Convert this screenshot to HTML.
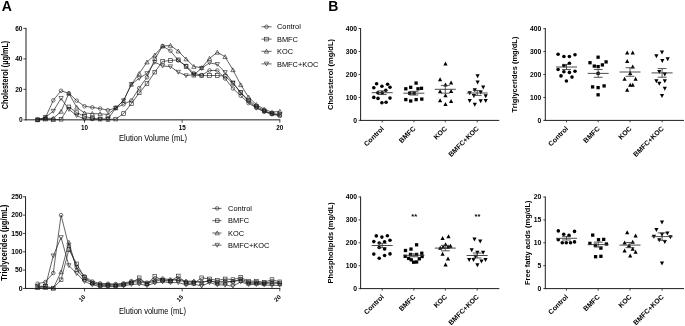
<!DOCTYPE html>
<html><head><meta charset="utf-8"><style>
html,body{margin:0;padding:0;background:#fff;width:685px;height:326px;overflow:hidden}
svg text{font-family:"Liberation Sans", sans-serif}
svg{filter:grayscale(1)}
</style></head><body>
<svg width="685" height="326" viewBox="0 0 685 326" style="display:block" font-family='"Liberation Sans", sans-serif'>
<rect width="685" height="326" fill="#fff"/>
<text x="1.7" y="11.1" font-size="14" text-anchor="start" font-weight="bold" fill="#000">A</text>
<text x="328.2" y="11.3" font-size="14" text-anchor="start" font-weight="bold" fill="#000">B</text>
<line x1="26" y1="27.9" x2="26" y2="120.35" stroke="#1e1e1e" stroke-width="1"/>
<line x1="25.5" y1="119.85" x2="280.3" y2="119.85" stroke="#1e1e1e" stroke-width="1"/>
<line x1="23.4" y1="119.85" x2="26" y2="119.85" stroke="#1e1e1e" stroke-width="0.8"/>
<text x="22.55" y="122.1" font-size="6.6" text-anchor="end" font-weight="bold" fill="#000">0</text>
<line x1="23.4" y1="89.37" x2="26" y2="89.37" stroke="#1e1e1e" stroke-width="0.8"/>
<text x="22.55" y="91.62" font-size="6.6" text-anchor="end" font-weight="bold" fill="#000">20</text>
<line x1="23.4" y1="58.88" x2="26" y2="58.88" stroke="#1e1e1e" stroke-width="0.8"/>
<text x="22.55" y="61.13" font-size="6.6" text-anchor="end" font-weight="bold" fill="#000">40</text>
<line x1="23.4" y1="28.4" x2="26" y2="28.4" stroke="#1e1e1e" stroke-width="0.8"/>
<text x="22.55" y="30.65" font-size="6.6" text-anchor="end" font-weight="bold" fill="#000">60</text>
<line x1="84.5" y1="119.85" x2="84.5" y2="122.75" stroke="#1e1e1e" stroke-width="0.8"/>
<text x="84.5" y="130.15" font-size="6.3" text-anchor="middle" font-weight="bold" fill="#000">10</text>
<line x1="182.15" y1="119.85" x2="182.15" y2="122.75" stroke="#1e1e1e" stroke-width="0.8"/>
<text x="182.15" y="130.15" font-size="6.3" text-anchor="middle" font-weight="bold" fill="#000">15</text>
<line x1="279.8" y1="119.85" x2="279.8" y2="122.75" stroke="#1e1e1e" stroke-width="0.8"/>
<text x="279.8" y="130.15" font-size="6.3" text-anchor="middle" font-weight="bold" fill="#000">20</text>
<text x="0" y="0" font-size="7.55" text-anchor="middle" transform="translate(153 140.7) scale(1 1.12)" fill="#000">Elution Volume (mL)</text>
<text x="0" y="0" font-size="7.3" text-anchor="middle" font-weight="bold" transform="translate(8.3 75) rotate(-90) scale(1 1.18)" fill="#000">Cholesterol (µg/mL)</text>
<polyline fill="none" stroke="#222" stroke-width="0.7" points="37.63,119.85 45.44,117.56 53.25,100.34 61.07,90.74 68.88,93.33 76.69,100.65 84.5,106.28 92.31,107.35 100.13,108.57 107.94,110.25 115.75,107.96 123.56,104.3 131.37,100.49 139.19,88.15 147,77.33 154.81,59.04 162.62,46.08 170.43,50.81 178.25,60.41 186.06,65.89 193.87,73.36 201.68,75.19 209.49,70.47 217.31,70.47 225.12,78.55 232.93,88.45 240.74,95.77 248.55,103.08 256.37,107.96 264.18,111.77 271.99,114.21 279.8,115.89"/>
<polyline fill="none" stroke="#222" stroke-width="0.7" points="37.63,119.85 45.44,119.09 53.25,119.85 61.07,119.24 68.88,106.89 76.69,112.69 84.5,116.34 92.31,118.33 100.13,119.09 107.94,119.39 115.75,119.09 123.56,113.6 131.37,103.69 139.19,92.87 147,83.57 154.81,72.14 162.62,61.32 170.43,60.56 178.25,59.8 186.06,66.5 193.87,75.19 201.68,75.65 209.49,75.5 217.31,75.5 225.12,76.11 232.93,83.27 240.74,92.72 248.55,100.04 256.37,106.13 264.18,110.7 271.99,113.75 279.8,114.97"/>
<polyline fill="none" stroke="#222" stroke-width="0.7" points="37.63,119.85 45.44,118.33 53.25,118.33 61.07,111.47 68.88,93.33 76.69,107.35 84.5,112.99 92.31,113.6 100.13,113.75 107.94,114.52 115.75,107.96 123.56,100.65 131.37,84.34 139.19,73.52 147,62.08 154.81,55.07 162.62,46.08 170.43,45.47 178.25,51.11 186.06,59.04 193.87,66.5 201.68,67.72 209.49,58.43 217.31,52.33 225.12,56.75 232.93,69.86 240.74,84.79 248.55,97.14 256.37,104.61 264.18,109.18 271.99,112.23 279.8,111.31"/>
<polyline fill="none" stroke="#222" stroke-width="0.7" points="37.63,119.85 45.44,117.26 53.25,111.16 61.07,98.36 68.88,109.33 76.69,115.58 84.5,119.09 92.31,119.09 100.13,119.09 107.94,119.09 115.75,107.96 123.56,100.65 131.37,84.34 139.19,78.24 147,73.52 154.81,62.24 162.62,65.89 170.43,66.66 178.25,72.14 186.06,75.65 193.87,74.58 201.68,68.33 209.49,62.85 217.31,64.37 225.12,72.45 232.93,82.81 240.74,92.41 248.55,101.56 256.37,107.66 264.18,111.47 271.99,113.75 279.8,114.21"/>
<circle cx="37.63" cy="119.85" r="1.8" fill="none" stroke="#1a1a1a" stroke-width="0.6"/>
<circle cx="45.44" cy="117.56" r="1.8" fill="none" stroke="#1a1a1a" stroke-width="0.6"/>
<circle cx="53.25" cy="100.34" r="1.8" fill="none" stroke="#1a1a1a" stroke-width="0.6"/>
<circle cx="61.07" cy="90.74" r="1.8" fill="none" stroke="#1a1a1a" stroke-width="0.6"/>
<circle cx="68.88" cy="93.33" r="1.8" fill="none" stroke="#1a1a1a" stroke-width="0.6"/>
<circle cx="76.69" cy="100.65" r="1.8" fill="none" stroke="#1a1a1a" stroke-width="0.6"/>
<circle cx="84.5" cy="106.28" r="1.8" fill="none" stroke="#1a1a1a" stroke-width="0.6"/>
<circle cx="92.31" cy="107.35" r="1.8" fill="none" stroke="#1a1a1a" stroke-width="0.6"/>
<circle cx="100.13" cy="108.57" r="1.8" fill="none" stroke="#1a1a1a" stroke-width="0.6"/>
<circle cx="107.94" cy="110.25" r="1.8" fill="none" stroke="#1a1a1a" stroke-width="0.6"/>
<circle cx="115.75" cy="107.96" r="1.8" fill="none" stroke="#1a1a1a" stroke-width="0.6"/>
<circle cx="123.56" cy="104.3" r="1.8" fill="none" stroke="#1a1a1a" stroke-width="0.6"/>
<circle cx="131.37" cy="100.49" r="1.8" fill="none" stroke="#1a1a1a" stroke-width="0.6"/>
<circle cx="139.19" cy="88.15" r="1.8" fill="none" stroke="#1a1a1a" stroke-width="0.6"/>
<circle cx="147" cy="77.33" r="1.8" fill="none" stroke="#1a1a1a" stroke-width="0.6"/>
<circle cx="154.81" cy="59.04" r="1.8" fill="none" stroke="#1a1a1a" stroke-width="0.6"/>
<circle cx="162.62" cy="46.08" r="1.8" fill="none" stroke="#1a1a1a" stroke-width="0.6"/>
<circle cx="170.43" cy="50.81" r="1.8" fill="none" stroke="#1a1a1a" stroke-width="0.6"/>
<circle cx="178.25" cy="60.41" r="1.8" fill="none" stroke="#1a1a1a" stroke-width="0.6"/>
<circle cx="186.06" cy="65.89" r="1.8" fill="none" stroke="#1a1a1a" stroke-width="0.6"/>
<circle cx="193.87" cy="73.36" r="1.8" fill="none" stroke="#1a1a1a" stroke-width="0.6"/>
<circle cx="201.68" cy="75.19" r="1.8" fill="none" stroke="#1a1a1a" stroke-width="0.6"/>
<circle cx="209.49" cy="70.47" r="1.8" fill="none" stroke="#1a1a1a" stroke-width="0.6"/>
<circle cx="217.31" cy="70.47" r="1.8" fill="none" stroke="#1a1a1a" stroke-width="0.6"/>
<circle cx="225.12" cy="78.55" r="1.8" fill="none" stroke="#1a1a1a" stroke-width="0.6"/>
<circle cx="232.93" cy="88.45" r="1.8" fill="none" stroke="#1a1a1a" stroke-width="0.6"/>
<circle cx="240.74" cy="95.77" r="1.8" fill="none" stroke="#1a1a1a" stroke-width="0.6"/>
<circle cx="248.55" cy="103.08" r="1.8" fill="none" stroke="#1a1a1a" stroke-width="0.6"/>
<circle cx="256.37" cy="107.96" r="1.8" fill="none" stroke="#1a1a1a" stroke-width="0.6"/>
<circle cx="264.18" cy="111.77" r="1.8" fill="none" stroke="#1a1a1a" stroke-width="0.6"/>
<circle cx="271.99" cy="114.21" r="1.8" fill="none" stroke="#1a1a1a" stroke-width="0.6"/>
<circle cx="279.8" cy="115.89" r="1.8" fill="none" stroke="#1a1a1a" stroke-width="0.6"/>
<rect x="35.78" y="118" width="3.7" height="3.7" fill="none" stroke="#1a1a1a" stroke-width="0.6"/>
<rect x="43.59" y="117.24" width="3.7" height="3.7" fill="none" stroke="#1a1a1a" stroke-width="0.6"/>
<rect x="51.4" y="118" width="3.7" height="3.7" fill="none" stroke="#1a1a1a" stroke-width="0.6"/>
<rect x="59.22" y="117.39" width="3.7" height="3.7" fill="none" stroke="#1a1a1a" stroke-width="0.6"/>
<rect x="67.03" y="105.04" width="3.7" height="3.7" fill="none" stroke="#1a1a1a" stroke-width="0.6"/>
<rect x="74.84" y="110.84" width="3.7" height="3.7" fill="none" stroke="#1a1a1a" stroke-width="0.6"/>
<rect x="82.65" y="114.49" width="3.7" height="3.7" fill="none" stroke="#1a1a1a" stroke-width="0.6"/>
<rect x="90.46" y="116.48" width="3.7" height="3.7" fill="none" stroke="#1a1a1a" stroke-width="0.6"/>
<rect x="98.28" y="117.24" width="3.7" height="3.7" fill="none" stroke="#1a1a1a" stroke-width="0.6"/>
<rect x="106.09" y="117.54" width="3.7" height="3.7" fill="none" stroke="#1a1a1a" stroke-width="0.6"/>
<rect x="113.9" y="117.24" width="3.7" height="3.7" fill="none" stroke="#1a1a1a" stroke-width="0.6"/>
<rect x="121.71" y="111.75" width="3.7" height="3.7" fill="none" stroke="#1a1a1a" stroke-width="0.6"/>
<rect x="129.52" y="101.84" width="3.7" height="3.7" fill="none" stroke="#1a1a1a" stroke-width="0.6"/>
<rect x="137.34" y="91.02" width="3.7" height="3.7" fill="none" stroke="#1a1a1a" stroke-width="0.6"/>
<rect x="145.15" y="81.72" width="3.7" height="3.7" fill="none" stroke="#1a1a1a" stroke-width="0.6"/>
<rect x="152.96" y="70.29" width="3.7" height="3.7" fill="none" stroke="#1a1a1a" stroke-width="0.6"/>
<rect x="160.77" y="59.47" width="3.7" height="3.7" fill="none" stroke="#1a1a1a" stroke-width="0.6"/>
<rect x="168.58" y="58.71" width="3.7" height="3.7" fill="none" stroke="#1a1a1a" stroke-width="0.6"/>
<rect x="176.4" y="57.95" width="3.7" height="3.7" fill="none" stroke="#1a1a1a" stroke-width="0.6"/>
<rect x="184.21" y="64.65" width="3.7" height="3.7" fill="none" stroke="#1a1a1a" stroke-width="0.6"/>
<rect x="192.02" y="73.34" width="3.7" height="3.7" fill="none" stroke="#1a1a1a" stroke-width="0.6"/>
<rect x="199.83" y="73.8" width="3.7" height="3.7" fill="none" stroke="#1a1a1a" stroke-width="0.6"/>
<rect x="207.64" y="73.65" width="3.7" height="3.7" fill="none" stroke="#1a1a1a" stroke-width="0.6"/>
<rect x="215.46" y="73.65" width="3.7" height="3.7" fill="none" stroke="#1a1a1a" stroke-width="0.6"/>
<rect x="223.27" y="74.26" width="3.7" height="3.7" fill="none" stroke="#1a1a1a" stroke-width="0.6"/>
<rect x="231.08" y="81.42" width="3.7" height="3.7" fill="none" stroke="#1a1a1a" stroke-width="0.6"/>
<rect x="238.89" y="90.87" width="3.7" height="3.7" fill="none" stroke="#1a1a1a" stroke-width="0.6"/>
<rect x="246.7" y="98.19" width="3.7" height="3.7" fill="none" stroke="#1a1a1a" stroke-width="0.6"/>
<rect x="254.52" y="104.28" width="3.7" height="3.7" fill="none" stroke="#1a1a1a" stroke-width="0.6"/>
<rect x="262.33" y="108.86" width="3.7" height="3.7" fill="none" stroke="#1a1a1a" stroke-width="0.6"/>
<rect x="270.14" y="111.9" width="3.7" height="3.7" fill="none" stroke="#1a1a1a" stroke-width="0.6"/>
<rect x="277.95" y="113.12" width="3.7" height="3.7" fill="none" stroke="#1a1a1a" stroke-width="0.6"/>
<path d="M37.63 117.81L39.78 121.68L35.48 121.68Z" fill="none" stroke="#1a1a1a" stroke-width="0.6"/>
<path d="M45.44 116.28L47.59 120.15L43.29 120.15Z" fill="none" stroke="#1a1a1a" stroke-width="0.6"/>
<path d="M53.25 116.28L55.4 120.15L51.1 120.15Z" fill="none" stroke="#1a1a1a" stroke-width="0.6"/>
<path d="M61.07 109.42L63.22 113.29L58.92 113.29Z" fill="none" stroke="#1a1a1a" stroke-width="0.6"/>
<path d="M68.88 91.29L71.03 95.16L66.73 95.16Z" fill="none" stroke="#1a1a1a" stroke-width="0.6"/>
<path d="M76.69 105.31L78.84 109.18L74.54 109.18Z" fill="none" stroke="#1a1a1a" stroke-width="0.6"/>
<path d="M84.5 110.95L86.65 114.82L82.35 114.82Z" fill="none" stroke="#1a1a1a" stroke-width="0.6"/>
<path d="M92.31 111.56L94.46 115.43L90.16 115.43Z" fill="none" stroke="#1a1a1a" stroke-width="0.6"/>
<path d="M100.13 111.71L102.28 115.58L97.98 115.58Z" fill="none" stroke="#1a1a1a" stroke-width="0.6"/>
<path d="M107.94 112.47L110.09 116.34L105.79 116.34Z" fill="none" stroke="#1a1a1a" stroke-width="0.6"/>
<path d="M115.75 105.92L117.9 109.79L113.6 109.79Z" fill="none" stroke="#1a1a1a" stroke-width="0.6"/>
<path d="M123.56 98.6L125.71 102.47L121.41 102.47Z" fill="none" stroke="#1a1a1a" stroke-width="0.6"/>
<path d="M131.37 82.29L133.52 86.16L129.22 86.16Z" fill="none" stroke="#1a1a1a" stroke-width="0.6"/>
<path d="M139.19 71.47L141.34 75.34L137.04 75.34Z" fill="none" stroke="#1a1a1a" stroke-width="0.6"/>
<path d="M147 60.04L149.15 63.91L144.85 63.91Z" fill="none" stroke="#1a1a1a" stroke-width="0.6"/>
<path d="M154.81 53.03L156.96 56.9L152.66 56.9Z" fill="none" stroke="#1a1a1a" stroke-width="0.6"/>
<path d="M162.62 44.04L164.77 47.91L160.47 47.91Z" fill="none" stroke="#1a1a1a" stroke-width="0.6"/>
<path d="M170.43 43.43L172.58 47.3L168.28 47.3Z" fill="none" stroke="#1a1a1a" stroke-width="0.6"/>
<path d="M178.25 49.07L180.4 52.94L176.1 52.94Z" fill="none" stroke="#1a1a1a" stroke-width="0.6"/>
<path d="M186.06 56.99L188.21 60.86L183.91 60.86Z" fill="none" stroke="#1a1a1a" stroke-width="0.6"/>
<path d="M193.87 64.46L196.02 68.33L191.72 68.33Z" fill="none" stroke="#1a1a1a" stroke-width="0.6"/>
<path d="M201.68 65.68L203.83 69.55L199.53 69.55Z" fill="none" stroke="#1a1a1a" stroke-width="0.6"/>
<path d="M209.49 56.38L211.64 60.25L207.34 60.25Z" fill="none" stroke="#1a1a1a" stroke-width="0.6"/>
<path d="M217.31 50.29L219.46 54.16L215.16 54.16Z" fill="none" stroke="#1a1a1a" stroke-width="0.6"/>
<path d="M225.12 54.71L227.27 58.58L222.97 58.58Z" fill="none" stroke="#1a1a1a" stroke-width="0.6"/>
<path d="M232.93 67.81L235.08 71.68L230.78 71.68Z" fill="none" stroke="#1a1a1a" stroke-width="0.6"/>
<path d="M240.74 82.75L242.89 86.62L238.59 86.62Z" fill="none" stroke="#1a1a1a" stroke-width="0.6"/>
<path d="M248.55 95.1L250.7 98.97L246.4 98.97Z" fill="none" stroke="#1a1a1a" stroke-width="0.6"/>
<path d="M256.37 102.57L258.52 106.44L254.22 106.44Z" fill="none" stroke="#1a1a1a" stroke-width="0.6"/>
<path d="M264.18 107.14L266.33 111.01L262.03 111.01Z" fill="none" stroke="#1a1a1a" stroke-width="0.6"/>
<path d="M271.99 110.19L274.14 114.06L269.84 114.06Z" fill="none" stroke="#1a1a1a" stroke-width="0.6"/>
<path d="M279.8 109.27L281.95 113.14L277.65 113.14Z" fill="none" stroke="#1a1a1a" stroke-width="0.6"/>
<path d="M37.63 121.89L39.78 118.02L35.48 118.02Z" fill="none" stroke="#1a1a1a" stroke-width="0.6"/>
<path d="M45.44 119.3L47.59 115.43L43.29 115.43Z" fill="none" stroke="#1a1a1a" stroke-width="0.6"/>
<path d="M53.25 113.2L55.4 109.33L51.1 109.33Z" fill="none" stroke="#1a1a1a" stroke-width="0.6"/>
<path d="M61.07 100.4L63.22 96.53L58.92 96.53Z" fill="none" stroke="#1a1a1a" stroke-width="0.6"/>
<path d="M68.88 111.38L71.03 107.51L66.73 107.51Z" fill="none" stroke="#1a1a1a" stroke-width="0.6"/>
<path d="M76.69 117.62L78.84 113.75L74.54 113.75Z" fill="none" stroke="#1a1a1a" stroke-width="0.6"/>
<path d="M84.5 121.13L86.65 117.26L82.35 117.26Z" fill="none" stroke="#1a1a1a" stroke-width="0.6"/>
<path d="M92.31 121.13L94.46 117.26L90.16 117.26Z" fill="none" stroke="#1a1a1a" stroke-width="0.6"/>
<path d="M100.13 121.13L102.28 117.26L97.98 117.26Z" fill="none" stroke="#1a1a1a" stroke-width="0.6"/>
<path d="M107.94 121.13L110.09 117.26L105.79 117.26Z" fill="none" stroke="#1a1a1a" stroke-width="0.6"/>
<path d="M115.75 110L117.9 106.13L113.6 106.13Z" fill="none" stroke="#1a1a1a" stroke-width="0.6"/>
<path d="M123.56 102.69L125.71 98.82L121.41 98.82Z" fill="none" stroke="#1a1a1a" stroke-width="0.6"/>
<path d="M131.37 86.38L133.52 82.51L129.22 82.51Z" fill="none" stroke="#1a1a1a" stroke-width="0.6"/>
<path d="M139.19 80.28L141.34 76.41L137.04 76.41Z" fill="none" stroke="#1a1a1a" stroke-width="0.6"/>
<path d="M147 75.56L149.15 71.69L144.85 71.69Z" fill="none" stroke="#1a1a1a" stroke-width="0.6"/>
<path d="M154.81 64.28L156.96 60.41L152.66 60.41Z" fill="none" stroke="#1a1a1a" stroke-width="0.6"/>
<path d="M162.62 67.94L164.77 64.07L160.47 64.07Z" fill="none" stroke="#1a1a1a" stroke-width="0.6"/>
<path d="M170.43 68.7L172.58 64.83L168.28 64.83Z" fill="none" stroke="#1a1a1a" stroke-width="0.6"/>
<path d="M178.25 74.19L180.4 70.32L176.1 70.32Z" fill="none" stroke="#1a1a1a" stroke-width="0.6"/>
<path d="M186.06 77.69L188.21 73.82L183.91 73.82Z" fill="none" stroke="#1a1a1a" stroke-width="0.6"/>
<path d="M193.87 76.62L196.02 72.75L191.72 72.75Z" fill="none" stroke="#1a1a1a" stroke-width="0.6"/>
<path d="M201.68 70.38L203.83 66.51L199.53 66.51Z" fill="none" stroke="#1a1a1a" stroke-width="0.6"/>
<path d="M209.49 64.89L211.64 61.02L207.34 61.02Z" fill="none" stroke="#1a1a1a" stroke-width="0.6"/>
<path d="M217.31 66.41L219.46 62.54L215.16 62.54Z" fill="none" stroke="#1a1a1a" stroke-width="0.6"/>
<path d="M225.12 74.49L227.27 70.62L222.97 70.62Z" fill="none" stroke="#1a1a1a" stroke-width="0.6"/>
<path d="M232.93 84.86L235.08 80.99L230.78 80.99Z" fill="none" stroke="#1a1a1a" stroke-width="0.6"/>
<path d="M240.74 94.46L242.89 90.59L238.59 90.59Z" fill="none" stroke="#1a1a1a" stroke-width="0.6"/>
<path d="M248.55 103.6L250.7 99.73L246.4 99.73Z" fill="none" stroke="#1a1a1a" stroke-width="0.6"/>
<path d="M256.37 109.7L258.52 105.83L254.22 105.83Z" fill="none" stroke="#1a1a1a" stroke-width="0.6"/>
<path d="M264.18 113.51L266.33 109.64L262.03 109.64Z" fill="none" stroke="#1a1a1a" stroke-width="0.6"/>
<path d="M271.99 115.8L274.14 111.93L269.84 111.93Z" fill="none" stroke="#1a1a1a" stroke-width="0.6"/>
<path d="M279.8 116.25L281.95 112.38L277.65 112.38Z" fill="none" stroke="#1a1a1a" stroke-width="0.6"/>
<line x1="261.5" y1="26.8" x2="271.6" y2="26.8" stroke="#222" stroke-width="0.7"/>
<circle cx="266.5" cy="26.8" r="1.8" fill="none" stroke="#1a1a1a" stroke-width="0.6"/>
<text x="277" y="29.4" font-size="7.4" text-anchor="start" fill="#000">Control</text>
<line x1="261.5" y1="39.1" x2="271.6" y2="39.1" stroke="#222" stroke-width="0.7"/>
<rect x="264.65" y="37.25" width="3.7" height="3.7" fill="none" stroke="#1a1a1a" stroke-width="0.6"/>
<text x="277" y="41.7" font-size="7.4" text-anchor="start" fill="#000">BMFC</text>
<line x1="261.5" y1="51.3" x2="271.6" y2="51.3" stroke="#222" stroke-width="0.7"/>
<path d="M266.5 49.26L268.65 53.13L264.35 53.13Z" fill="none" stroke="#1a1a1a" stroke-width="0.6"/>
<text x="277" y="53.9" font-size="7.4" text-anchor="start" fill="#000">KOC</text>
<line x1="261.5" y1="63.9" x2="271.6" y2="63.9" stroke="#222" stroke-width="0.7"/>
<path d="M266.5 65.94L268.65 62.07L264.35 62.07Z" fill="none" stroke="#1a1a1a" stroke-width="0.6"/>
<text x="277" y="66.5" font-size="7.4" text-anchor="start" fill="#000">BMFC+KOC</text>
<line x1="25.55" y1="196.3" x2="25.55" y2="288.95" stroke="#1e1e1e" stroke-width="1"/>
<line x1="25.05" y1="288.45" x2="280.3" y2="288.45" stroke="#1e1e1e" stroke-width="1"/>
<line x1="22.95" y1="288.45" x2="25.55" y2="288.45" stroke="#1e1e1e" stroke-width="0.8"/>
<text x="22.55" y="290.7" font-size="6.8" text-anchor="end" font-weight="bold" fill="#000">0</text>
<line x1="22.95" y1="270.12" x2="25.55" y2="270.12" stroke="#1e1e1e" stroke-width="0.8"/>
<text x="22.55" y="272.37" font-size="6.8" text-anchor="end" font-weight="bold" fill="#000">50</text>
<line x1="22.95" y1="251.79" x2="25.55" y2="251.79" stroke="#1e1e1e" stroke-width="0.8"/>
<text x="22.55" y="254.04" font-size="6.8" text-anchor="end" font-weight="bold" fill="#000">100</text>
<line x1="22.95" y1="233.46" x2="25.55" y2="233.46" stroke="#1e1e1e" stroke-width="0.8"/>
<text x="22.55" y="235.71" font-size="6.8" text-anchor="end" font-weight="bold" fill="#000">150</text>
<line x1="22.95" y1="215.13" x2="25.55" y2="215.13" stroke="#1e1e1e" stroke-width="0.8"/>
<text x="22.55" y="217.38" font-size="6.8" text-anchor="end" font-weight="bold" fill="#000">200</text>
<line x1="22.95" y1="196.8" x2="25.55" y2="196.8" stroke="#1e1e1e" stroke-width="0.8"/>
<text x="22.55" y="199.05" font-size="6.8" text-anchor="end" font-weight="bold" fill="#000">250</text>
<line x1="84.5" y1="288.45" x2="84.5" y2="291.35" stroke="#1e1e1e" stroke-width="0.8"/>
<text x="86" y="297.45" font-size="6" text-anchor="end" font-weight="bold" transform="rotate(-45 86 297.45)" fill="#000">10</text>
<line x1="182.15" y1="288.45" x2="182.15" y2="291.35" stroke="#1e1e1e" stroke-width="0.8"/>
<text x="183.65" y="297.45" font-size="6" text-anchor="end" font-weight="bold" transform="rotate(-45 183.65 297.45)" fill="#000">15</text>
<line x1="279.8" y1="288.45" x2="279.8" y2="291.35" stroke="#1e1e1e" stroke-width="0.8"/>
<text x="281.3" y="297.45" font-size="6" text-anchor="end" font-weight="bold" transform="rotate(-45 281.3 297.45)" fill="#000">20</text>
<text x="0" y="0" font-size="7.55" text-anchor="middle" transform="translate(152.5 314.1) scale(1 1.12)" fill="#000">Elution volume (mL)</text>
<text x="0" y="0" font-size="7.55" text-anchor="middle" font-weight="bold" transform="translate(7.3 242.7) rotate(-90) scale(1 1.18)" fill="#000">Triglycerides (µg/mL)</text>
<polyline fill="none" stroke="#222" stroke-width="0.7" points="37.63,283.68 45.44,282.03 53.25,273.05 61.07,215.13 68.88,246.29 76.69,267.19 84.5,276.35 92.31,281.48 100.13,283.32 107.94,283.68 115.75,284.05 123.56,283.32 131.37,281.12 139.19,280.38 147,282.58 154.81,279.65 162.62,278.55 170.43,279.65 178.25,280.38 186.06,281.85 193.87,281.85 201.68,281.85 209.49,281.12 217.31,281.85 225.12,281.12 232.93,281.85 240.74,278.92 248.55,282.22 256.37,282.22 264.18,282.95 271.99,281.85 279.8,282.95"/>
<polyline fill="none" stroke="#222" stroke-width="0.7" points="37.63,286.98 45.44,286.25 53.25,288.08 61.07,279.83 68.88,249.59 76.69,263.89 84.5,277.45 92.31,282.95 100.13,285.52 107.94,285.52 115.75,285.88 123.56,284.78 131.37,282.95 139.19,277.82 147,284.05 154.81,276.35 162.62,280.38 170.43,281.12 178.25,275.99 186.06,283.32 193.87,283.32 201.68,277.82 209.49,278.92 217.31,280.38 225.12,278.92 232.93,279.65 240.74,277.45 248.55,281.12 256.37,281.12 264.18,282.22 271.99,279.65 279.8,281.85"/>
<polyline fill="none" stroke="#222" stroke-width="0.7" points="37.63,287.72 45.44,287.72 53.25,288.27 61.07,271.95 68.88,242.26 76.69,269.39 84.5,279.28 92.31,282.95 100.13,284.42 107.94,284.42 115.75,284.78 123.56,284.05 131.37,281.85 139.19,281.85 147,283.32 154.81,281.12 162.62,279.65 170.43,280.38 178.25,278.92 186.06,281.12 193.87,281.12 201.68,282.58 209.49,280.38 217.31,283.32 225.12,282.58 232.93,281.12 240.74,280.38 248.55,283.32 256.37,283.32 264.18,283.68 271.99,282.95 279.8,283.68"/>
<polyline fill="none" stroke="#222" stroke-width="0.7" points="37.63,286.25 45.44,286.25 53.25,255.82 61.07,237.49 68.88,265.54 76.69,273.53 84.5,281.48 92.31,284.78 100.13,286.62 107.94,286.62 115.75,286.62 123.56,285.88 131.37,284.42 139.19,284.05 147,285.52 154.81,282.95 162.62,281.85 170.43,282.58 178.25,282.58 186.06,284.78 193.87,284.05 201.68,286.07 209.49,282.58 217.31,284.78 225.12,285.15 232.93,286.25 240.74,281.85 248.55,284.42 256.37,284.42 264.18,284.78 271.99,285.52 279.8,285.15"/>
<circle cx="37.63" cy="283.68" r="1.8" fill="none" stroke="#1a1a1a" stroke-width="0.6"/>
<circle cx="45.44" cy="282.03" r="1.8" fill="none" stroke="#1a1a1a" stroke-width="0.6"/>
<circle cx="53.25" cy="273.05" r="1.8" fill="none" stroke="#1a1a1a" stroke-width="0.6"/>
<circle cx="61.07" cy="215.13" r="1.8" fill="none" stroke="#1a1a1a" stroke-width="0.6"/>
<circle cx="68.88" cy="246.29" r="1.8" fill="none" stroke="#1a1a1a" stroke-width="0.6"/>
<circle cx="76.69" cy="267.19" r="1.8" fill="none" stroke="#1a1a1a" stroke-width="0.6"/>
<circle cx="84.5" cy="276.35" r="1.8" fill="none" stroke="#1a1a1a" stroke-width="0.6"/>
<circle cx="92.31" cy="281.48" r="1.8" fill="none" stroke="#1a1a1a" stroke-width="0.6"/>
<circle cx="100.13" cy="283.32" r="1.8" fill="none" stroke="#1a1a1a" stroke-width="0.6"/>
<circle cx="107.94" cy="283.68" r="1.8" fill="none" stroke="#1a1a1a" stroke-width="0.6"/>
<circle cx="115.75" cy="284.05" r="1.8" fill="none" stroke="#1a1a1a" stroke-width="0.6"/>
<circle cx="123.56" cy="283.32" r="1.8" fill="none" stroke="#1a1a1a" stroke-width="0.6"/>
<circle cx="131.37" cy="281.12" r="1.8" fill="none" stroke="#1a1a1a" stroke-width="0.6"/>
<circle cx="139.19" cy="280.38" r="1.8" fill="none" stroke="#1a1a1a" stroke-width="0.6"/>
<circle cx="147" cy="282.58" r="1.8" fill="none" stroke="#1a1a1a" stroke-width="0.6"/>
<circle cx="154.81" cy="279.65" r="1.8" fill="none" stroke="#1a1a1a" stroke-width="0.6"/>
<circle cx="162.62" cy="278.55" r="1.8" fill="none" stroke="#1a1a1a" stroke-width="0.6"/>
<circle cx="170.43" cy="279.65" r="1.8" fill="none" stroke="#1a1a1a" stroke-width="0.6"/>
<circle cx="178.25" cy="280.38" r="1.8" fill="none" stroke="#1a1a1a" stroke-width="0.6"/>
<circle cx="186.06" cy="281.85" r="1.8" fill="none" stroke="#1a1a1a" stroke-width="0.6"/>
<circle cx="193.87" cy="281.85" r="1.8" fill="none" stroke="#1a1a1a" stroke-width="0.6"/>
<circle cx="201.68" cy="281.85" r="1.8" fill="none" stroke="#1a1a1a" stroke-width="0.6"/>
<circle cx="209.49" cy="281.12" r="1.8" fill="none" stroke="#1a1a1a" stroke-width="0.6"/>
<circle cx="217.31" cy="281.85" r="1.8" fill="none" stroke="#1a1a1a" stroke-width="0.6"/>
<circle cx="225.12" cy="281.12" r="1.8" fill="none" stroke="#1a1a1a" stroke-width="0.6"/>
<circle cx="232.93" cy="281.85" r="1.8" fill="none" stroke="#1a1a1a" stroke-width="0.6"/>
<circle cx="240.74" cy="278.92" r="1.8" fill="none" stroke="#1a1a1a" stroke-width="0.6"/>
<circle cx="248.55" cy="282.22" r="1.8" fill="none" stroke="#1a1a1a" stroke-width="0.6"/>
<circle cx="256.37" cy="282.22" r="1.8" fill="none" stroke="#1a1a1a" stroke-width="0.6"/>
<circle cx="264.18" cy="282.95" r="1.8" fill="none" stroke="#1a1a1a" stroke-width="0.6"/>
<circle cx="271.99" cy="281.85" r="1.8" fill="none" stroke="#1a1a1a" stroke-width="0.6"/>
<circle cx="279.8" cy="282.95" r="1.8" fill="none" stroke="#1a1a1a" stroke-width="0.6"/>
<rect x="35.78" y="285.13" width="3.7" height="3.7" fill="none" stroke="#1a1a1a" stroke-width="0.6"/>
<rect x="43.59" y="284.4" width="3.7" height="3.7" fill="none" stroke="#1a1a1a" stroke-width="0.6"/>
<rect x="51.4" y="286.23" width="3.7" height="3.7" fill="none" stroke="#1a1a1a" stroke-width="0.6"/>
<rect x="59.22" y="277.98" width="3.7" height="3.7" fill="none" stroke="#1a1a1a" stroke-width="0.6"/>
<rect x="67.03" y="247.74" width="3.7" height="3.7" fill="none" stroke="#1a1a1a" stroke-width="0.6"/>
<rect x="74.84" y="262.04" width="3.7" height="3.7" fill="none" stroke="#1a1a1a" stroke-width="0.6"/>
<rect x="82.65" y="275.6" width="3.7" height="3.7" fill="none" stroke="#1a1a1a" stroke-width="0.6"/>
<rect x="90.46" y="281.1" width="3.7" height="3.7" fill="none" stroke="#1a1a1a" stroke-width="0.6"/>
<rect x="98.28" y="283.67" width="3.7" height="3.7" fill="none" stroke="#1a1a1a" stroke-width="0.6"/>
<rect x="106.09" y="283.67" width="3.7" height="3.7" fill="none" stroke="#1a1a1a" stroke-width="0.6"/>
<rect x="113.9" y="284.03" width="3.7" height="3.7" fill="none" stroke="#1a1a1a" stroke-width="0.6"/>
<rect x="121.71" y="282.93" width="3.7" height="3.7" fill="none" stroke="#1a1a1a" stroke-width="0.6"/>
<rect x="129.52" y="281.1" width="3.7" height="3.7" fill="none" stroke="#1a1a1a" stroke-width="0.6"/>
<rect x="137.34" y="275.97" width="3.7" height="3.7" fill="none" stroke="#1a1a1a" stroke-width="0.6"/>
<rect x="145.15" y="282.2" width="3.7" height="3.7" fill="none" stroke="#1a1a1a" stroke-width="0.6"/>
<rect x="152.96" y="274.5" width="3.7" height="3.7" fill="none" stroke="#1a1a1a" stroke-width="0.6"/>
<rect x="160.77" y="278.53" width="3.7" height="3.7" fill="none" stroke="#1a1a1a" stroke-width="0.6"/>
<rect x="168.58" y="279.27" width="3.7" height="3.7" fill="none" stroke="#1a1a1a" stroke-width="0.6"/>
<rect x="176.4" y="274.14" width="3.7" height="3.7" fill="none" stroke="#1a1a1a" stroke-width="0.6"/>
<rect x="184.21" y="281.47" width="3.7" height="3.7" fill="none" stroke="#1a1a1a" stroke-width="0.6"/>
<rect x="192.02" y="281.47" width="3.7" height="3.7" fill="none" stroke="#1a1a1a" stroke-width="0.6"/>
<rect x="199.83" y="275.97" width="3.7" height="3.7" fill="none" stroke="#1a1a1a" stroke-width="0.6"/>
<rect x="207.64" y="277.07" width="3.7" height="3.7" fill="none" stroke="#1a1a1a" stroke-width="0.6"/>
<rect x="215.46" y="278.53" width="3.7" height="3.7" fill="none" stroke="#1a1a1a" stroke-width="0.6"/>
<rect x="223.27" y="277.07" width="3.7" height="3.7" fill="none" stroke="#1a1a1a" stroke-width="0.6"/>
<rect x="231.08" y="277.8" width="3.7" height="3.7" fill="none" stroke="#1a1a1a" stroke-width="0.6"/>
<rect x="238.89" y="275.6" width="3.7" height="3.7" fill="none" stroke="#1a1a1a" stroke-width="0.6"/>
<rect x="246.7" y="279.27" width="3.7" height="3.7" fill="none" stroke="#1a1a1a" stroke-width="0.6"/>
<rect x="254.52" y="279.27" width="3.7" height="3.7" fill="none" stroke="#1a1a1a" stroke-width="0.6"/>
<rect x="262.33" y="280.37" width="3.7" height="3.7" fill="none" stroke="#1a1a1a" stroke-width="0.6"/>
<rect x="270.14" y="277.8" width="3.7" height="3.7" fill="none" stroke="#1a1a1a" stroke-width="0.6"/>
<rect x="277.95" y="280" width="3.7" height="3.7" fill="none" stroke="#1a1a1a" stroke-width="0.6"/>
<path d="M37.63 285.67L39.78 289.54L35.48 289.54Z" fill="none" stroke="#1a1a1a" stroke-width="0.6"/>
<path d="M45.44 285.67L47.59 289.54L43.29 289.54Z" fill="none" stroke="#1a1a1a" stroke-width="0.6"/>
<path d="M53.25 286.22L55.4 290.09L51.1 290.09Z" fill="none" stroke="#1a1a1a" stroke-width="0.6"/>
<path d="M61.07 269.91L63.22 273.78L58.92 273.78Z" fill="none" stroke="#1a1a1a" stroke-width="0.6"/>
<path d="M68.88 240.22L71.03 244.09L66.73 244.09Z" fill="none" stroke="#1a1a1a" stroke-width="0.6"/>
<path d="M76.69 267.34L78.84 271.21L74.54 271.21Z" fill="none" stroke="#1a1a1a" stroke-width="0.6"/>
<path d="M84.5 277.24L86.65 281.11L82.35 281.11Z" fill="none" stroke="#1a1a1a" stroke-width="0.6"/>
<path d="M92.31 280.91L94.46 284.78L90.16 284.78Z" fill="none" stroke="#1a1a1a" stroke-width="0.6"/>
<path d="M100.13 282.37L102.28 286.24L97.98 286.24Z" fill="none" stroke="#1a1a1a" stroke-width="0.6"/>
<path d="M107.94 282.37L110.09 286.24L105.79 286.24Z" fill="none" stroke="#1a1a1a" stroke-width="0.6"/>
<path d="M115.75 282.74L117.9 286.61L113.6 286.61Z" fill="none" stroke="#1a1a1a" stroke-width="0.6"/>
<path d="M123.56 282.01L125.71 285.88L121.41 285.88Z" fill="none" stroke="#1a1a1a" stroke-width="0.6"/>
<path d="M131.37 279.81L133.52 283.68L129.22 283.68Z" fill="none" stroke="#1a1a1a" stroke-width="0.6"/>
<path d="M139.19 279.81L141.34 283.68L137.04 283.68Z" fill="none" stroke="#1a1a1a" stroke-width="0.6"/>
<path d="M147 281.28L149.15 285.15L144.85 285.15Z" fill="none" stroke="#1a1a1a" stroke-width="0.6"/>
<path d="M154.81 279.08L156.96 282.95L152.66 282.95Z" fill="none" stroke="#1a1a1a" stroke-width="0.6"/>
<path d="M162.62 277.61L164.77 281.48L160.47 281.48Z" fill="none" stroke="#1a1a1a" stroke-width="0.6"/>
<path d="M170.43 278.34L172.58 282.21L168.28 282.21Z" fill="none" stroke="#1a1a1a" stroke-width="0.6"/>
<path d="M178.25 276.88L180.4 280.75L176.1 280.75Z" fill="none" stroke="#1a1a1a" stroke-width="0.6"/>
<path d="M186.06 279.08L188.21 282.95L183.91 282.95Z" fill="none" stroke="#1a1a1a" stroke-width="0.6"/>
<path d="M193.87 279.08L196.02 282.95L191.72 282.95Z" fill="none" stroke="#1a1a1a" stroke-width="0.6"/>
<path d="M201.68 280.54L203.83 284.41L199.53 284.41Z" fill="none" stroke="#1a1a1a" stroke-width="0.6"/>
<path d="M209.49 278.34L211.64 282.21L207.34 282.21Z" fill="none" stroke="#1a1a1a" stroke-width="0.6"/>
<path d="M217.31 281.28L219.46 285.15L215.16 285.15Z" fill="none" stroke="#1a1a1a" stroke-width="0.6"/>
<path d="M225.12 280.54L227.27 284.41L222.97 284.41Z" fill="none" stroke="#1a1a1a" stroke-width="0.6"/>
<path d="M232.93 279.08L235.08 282.95L230.78 282.95Z" fill="none" stroke="#1a1a1a" stroke-width="0.6"/>
<path d="M240.74 278.34L242.89 282.21L238.59 282.21Z" fill="none" stroke="#1a1a1a" stroke-width="0.6"/>
<path d="M248.55 281.28L250.7 285.15L246.4 285.15Z" fill="none" stroke="#1a1a1a" stroke-width="0.6"/>
<path d="M256.37 281.28L258.52 285.15L254.22 285.15Z" fill="none" stroke="#1a1a1a" stroke-width="0.6"/>
<path d="M264.18 281.64L266.33 285.51L262.03 285.51Z" fill="none" stroke="#1a1a1a" stroke-width="0.6"/>
<path d="M271.99 280.91L274.14 284.78L269.84 284.78Z" fill="none" stroke="#1a1a1a" stroke-width="0.6"/>
<path d="M279.8 281.64L281.95 285.51L277.65 285.51Z" fill="none" stroke="#1a1a1a" stroke-width="0.6"/>
<path d="M37.63 288.29L39.78 284.42L35.48 284.42Z" fill="none" stroke="#1a1a1a" stroke-width="0.6"/>
<path d="M45.44 288.29L47.59 284.42L43.29 284.42Z" fill="none" stroke="#1a1a1a" stroke-width="0.6"/>
<path d="M53.25 257.87L55.4 254L51.1 254Z" fill="none" stroke="#1a1a1a" stroke-width="0.6"/>
<path d="M61.07 239.54L63.22 235.67L58.92 235.67Z" fill="none" stroke="#1a1a1a" stroke-width="0.6"/>
<path d="M68.88 267.58L71.03 263.71L66.73 263.71Z" fill="none" stroke="#1a1a1a" stroke-width="0.6"/>
<path d="M76.69 275.57L78.84 271.7L74.54 271.7Z" fill="none" stroke="#1a1a1a" stroke-width="0.6"/>
<path d="M84.5 283.53L86.65 279.66L82.35 279.66Z" fill="none" stroke="#1a1a1a" stroke-width="0.6"/>
<path d="M92.31 286.83L94.46 282.96L90.16 282.96Z" fill="none" stroke="#1a1a1a" stroke-width="0.6"/>
<path d="M100.13 288.66L102.28 284.79L97.98 284.79Z" fill="none" stroke="#1a1a1a" stroke-width="0.6"/>
<path d="M107.94 288.66L110.09 284.79L105.79 284.79Z" fill="none" stroke="#1a1a1a" stroke-width="0.6"/>
<path d="M115.75 288.66L117.9 284.79L113.6 284.79Z" fill="none" stroke="#1a1a1a" stroke-width="0.6"/>
<path d="M123.56 287.93L125.71 284.06L121.41 284.06Z" fill="none" stroke="#1a1a1a" stroke-width="0.6"/>
<path d="M131.37 286.46L133.52 282.59L129.22 282.59Z" fill="none" stroke="#1a1a1a" stroke-width="0.6"/>
<path d="M139.19 286.09L141.34 282.22L137.04 282.22Z" fill="none" stroke="#1a1a1a" stroke-width="0.6"/>
<path d="M147 287.56L149.15 283.69L144.85 283.69Z" fill="none" stroke="#1a1a1a" stroke-width="0.6"/>
<path d="M154.81 284.99L156.96 281.12L152.66 281.12Z" fill="none" stroke="#1a1a1a" stroke-width="0.6"/>
<path d="M162.62 283.89L164.77 280.02L160.47 280.02Z" fill="none" stroke="#1a1a1a" stroke-width="0.6"/>
<path d="M170.43 284.63L172.58 280.76L168.28 280.76Z" fill="none" stroke="#1a1a1a" stroke-width="0.6"/>
<path d="M178.25 284.63L180.4 280.76L176.1 280.76Z" fill="none" stroke="#1a1a1a" stroke-width="0.6"/>
<path d="M186.06 286.83L188.21 282.96L183.91 282.96Z" fill="none" stroke="#1a1a1a" stroke-width="0.6"/>
<path d="M193.87 286.09L196.02 282.22L191.72 282.22Z" fill="none" stroke="#1a1a1a" stroke-width="0.6"/>
<path d="M201.68 288.11L203.83 284.24L199.53 284.24Z" fill="none" stroke="#1a1a1a" stroke-width="0.6"/>
<path d="M209.49 284.63L211.64 280.76L207.34 280.76Z" fill="none" stroke="#1a1a1a" stroke-width="0.6"/>
<path d="M217.31 286.83L219.46 282.96L215.16 282.96Z" fill="none" stroke="#1a1a1a" stroke-width="0.6"/>
<path d="M225.12 287.19L227.27 283.32L222.97 283.32Z" fill="none" stroke="#1a1a1a" stroke-width="0.6"/>
<path d="M232.93 288.29L235.08 284.42L230.78 284.42Z" fill="none" stroke="#1a1a1a" stroke-width="0.6"/>
<path d="M240.74 283.89L242.89 280.02L238.59 280.02Z" fill="none" stroke="#1a1a1a" stroke-width="0.6"/>
<path d="M248.55 286.46L250.7 282.59L246.4 282.59Z" fill="none" stroke="#1a1a1a" stroke-width="0.6"/>
<path d="M256.37 286.46L258.52 282.59L254.22 282.59Z" fill="none" stroke="#1a1a1a" stroke-width="0.6"/>
<path d="M264.18 286.83L266.33 282.96L262.03 282.96Z" fill="none" stroke="#1a1a1a" stroke-width="0.6"/>
<path d="M271.99 287.56L274.14 283.69L269.84 283.69Z" fill="none" stroke="#1a1a1a" stroke-width="0.6"/>
<path d="M279.8 287.19L281.95 283.32L277.65 283.32Z" fill="none" stroke="#1a1a1a" stroke-width="0.6"/>
<line x1="212.3" y1="208.4" x2="221.5" y2="208.4" stroke="#222" stroke-width="0.7"/>
<circle cx="217.2" cy="208.4" r="1.8" fill="none" stroke="#1a1a1a" stroke-width="0.6"/>
<text x="228.1" y="211" font-size="7.4" text-anchor="start" fill="#000">Control</text>
<line x1="212.3" y1="220.7" x2="221.5" y2="220.7" stroke="#222" stroke-width="0.7"/>
<rect x="215.35" y="218.85" width="3.7" height="3.7" fill="none" stroke="#1a1a1a" stroke-width="0.6"/>
<text x="228.1" y="223.3" font-size="7.4" text-anchor="start" fill="#000">BMFC</text>
<line x1="212.3" y1="233" x2="221.5" y2="233" stroke="#222" stroke-width="0.7"/>
<path d="M217.2 230.96L219.35 234.83L215.05 234.83Z" fill="none" stroke="#1a1a1a" stroke-width="0.6"/>
<text x="228.1" y="235.6" font-size="7.4" text-anchor="start" fill="#000">KOC</text>
<line x1="212.3" y1="245.2" x2="221.5" y2="245.2" stroke="#222" stroke-width="0.7"/>
<path d="M217.2 247.24L219.35 243.37L215.05 243.37Z" fill="none" stroke="#1a1a1a" stroke-width="0.6"/>
<text x="228.1" y="247.8" font-size="7.4" text-anchor="start" fill="#000">BMFC+KOC</text>
<line x1="360.6" y1="28" x2="360.6" y2="120.9" stroke="#1e1e1e" stroke-width="1"/>
<line x1="360.1" y1="120.4" x2="499.3" y2="120.4" stroke="#1e1e1e" stroke-width="1"/>
<line x1="358.6" y1="120.4" x2="360.6" y2="120.4" stroke="#1e1e1e" stroke-width="0.8"/>
<text x="357.1" y="122.7" font-size="6.75" text-anchor="end" font-weight="bold" fill="#000">0</text>
<line x1="358.6" y1="97.43" x2="360.6" y2="97.43" stroke="#1e1e1e" stroke-width="0.8"/>
<text x="357.1" y="99.73" font-size="6.75" text-anchor="end" font-weight="bold" fill="#000">100</text>
<line x1="358.6" y1="74.45" x2="360.6" y2="74.45" stroke="#1e1e1e" stroke-width="0.8"/>
<text x="357.1" y="76.75" font-size="6.75" text-anchor="end" font-weight="bold" fill="#000">200</text>
<line x1="358.6" y1="51.48" x2="360.6" y2="51.48" stroke="#1e1e1e" stroke-width="0.8"/>
<text x="357.1" y="53.78" font-size="6.75" text-anchor="end" font-weight="bold" fill="#000">300</text>
<line x1="358.6" y1="28.5" x2="360.6" y2="28.5" stroke="#1e1e1e" stroke-width="0.8"/>
<text x="357.1" y="30.8" font-size="6.75" text-anchor="end" font-weight="bold" fill="#000">400</text>
<line x1="382.2" y1="120.4" x2="382.2" y2="122.4" stroke="#1e1e1e" stroke-width="0.8"/>
<text x="384.4" y="129.1" font-size="7" text-anchor="end" font-weight="bold" transform="rotate(-45 384.4 129.1)" fill="#000">Control</text>
<line x1="413.9" y1="120.4" x2="413.9" y2="122.4" stroke="#1e1e1e" stroke-width="0.8"/>
<text x="416.1" y="129.1" font-size="7" text-anchor="end" font-weight="bold" transform="rotate(-45 416.1 129.1)" fill="#000">BMFC</text>
<line x1="445.3" y1="120.4" x2="445.3" y2="122.4" stroke="#1e1e1e" stroke-width="0.8"/>
<text x="447.5" y="129.1" font-size="7" text-anchor="end" font-weight="bold" transform="rotate(-45 447.5 129.1)" fill="#000">KOC</text>
<line x1="477.2" y1="120.4" x2="477.2" y2="122.4" stroke="#1e1e1e" stroke-width="0.8"/>
<text x="479.4" y="129.1" font-size="7" text-anchor="end" font-weight="bold" transform="rotate(-45 479.4 129.1)" fill="#000">BMFC+KOC</text>
<text x="332.6" y="74.45" font-size="7.5" text-anchor="middle" font-weight="bold" transform="rotate(-90 332.6 74.45)" fill="#000">Cholesterol (mg/dL)</text>
<circle cx="376.6" cy="83.7" r="1.8" fill="#000"/>
<circle cx="387.6" cy="84.3" r="1.8" fill="#000"/>
<circle cx="373.8" cy="87.8" r="1.8" fill="#000"/>
<circle cx="381.9" cy="86.3" r="1.8" fill="#000"/>
<circle cx="390" cy="87.3" r="1.8" fill="#000"/>
<circle cx="385.8" cy="90.2" r="1.8" fill="#000"/>
<circle cx="377.8" cy="92.7" r="1.8" fill="#000"/>
<circle cx="382.2" cy="92.9" r="1.8" fill="#000"/>
<circle cx="373.8" cy="97.4" r="1.8" fill="#000"/>
<circle cx="378" cy="98.4" r="1.8" fill="#000"/>
<circle cx="390" cy="98.1" r="1.8" fill="#000"/>
<circle cx="381.9" cy="102.7" r="1.8" fill="#000"/>
<circle cx="386.1" cy="102.3" r="1.8" fill="#000"/>
<line x1="371.7" y1="92.7" x2="392.7" y2="92.7" stroke="#383838" stroke-width="0.9"/>
<line x1="382.2" y1="90.86" x2="382.2" y2="94.54" stroke="#383838" stroke-width="0.85"/>
<line x1="377.8" y1="90.86" x2="386.6" y2="90.86" stroke="#383838" stroke-width="0.85"/>
<line x1="377.8" y1="94.54" x2="386.6" y2="94.54" stroke="#383838" stroke-width="0.85"/>
<rect x="414.45" y="81.45" width="3.3" height="3.3" fill="#000"/>
<rect x="404.15" y="87.15" width="3.3" height="3.3" fill="#000"/>
<rect x="409.05" y="85.65" width="3.3" height="3.3" fill="#000"/>
<rect x="416.35" y="87.15" width="3.3" height="3.3" fill="#000"/>
<rect x="419.85" y="86.65" width="3.3" height="3.3" fill="#000"/>
<rect x="408.05" y="91.55" width="3.3" height="3.3" fill="#000"/>
<rect x="412.45" y="91.55" width="3.3" height="3.3" fill="#000"/>
<rect x="404.15" y="97.95" width="3.3" height="3.3" fill="#000"/>
<rect x="409.05" y="99.35" width="3.3" height="3.3" fill="#000"/>
<rect x="414.45" y="97.95" width="3.3" height="3.3" fill="#000"/>
<rect x="420.15" y="97.45" width="3.3" height="3.3" fill="#000"/>
<line x1="403.4" y1="93.2" x2="424.4" y2="93.2" stroke="#383838" stroke-width="0.9"/>
<line x1="413.9" y1="91.35" x2="413.9" y2="95.05" stroke="#383838" stroke-width="0.85"/>
<line x1="409.5" y1="91.35" x2="418.3" y2="91.35" stroke="#383838" stroke-width="0.85"/>
<line x1="409.5" y1="95.05" x2="418.3" y2="95.05" stroke="#383838" stroke-width="0.85"/>
<path d="M445.5 61.41L447.6 65.39L443.4 65.39Z" fill="#000"/>
<path d="M440.1 77.2L442.2 81.2L438 81.2Z" fill="#000"/>
<path d="M451.1 80.41L453.2 84.4L449 84.4Z" fill="#000"/>
<path d="M445.5 82.6L447.6 86.59L443.4 86.59Z" fill="#000"/>
<path d="M440.1 89.3L442.2 93.3L438 93.3Z" fill="#000"/>
<path d="M451.1 89L453.2 93L449 93Z" fill="#000"/>
<path d="M445.5 93.2L447.6 97.2L443.4 97.2Z" fill="#000"/>
<path d="M440.1 98.3L442.2 102.3L438 102.3Z" fill="#000"/>
<path d="M451.1 98.91L453.2 102.9L449 102.9Z" fill="#000"/>
<path d="M445.5 102L447.6 106L443.4 106Z" fill="#000"/>
<line x1="434.8" y1="89.3" x2="455.8" y2="89.3" stroke="#383838" stroke-width="0.9"/>
<line x1="445.3" y1="85.42" x2="445.3" y2="93.18" stroke="#383838" stroke-width="0.85"/>
<line x1="440.9" y1="85.42" x2="449.7" y2="85.42" stroke="#383838" stroke-width="0.85"/>
<line x1="440.9" y1="93.18" x2="449.7" y2="93.18" stroke="#383838" stroke-width="0.85"/>
<path d="M477.6 78.3L479.7 74.3L475.5 74.3Z" fill="#000"/>
<path d="M477.6 84.4L479.7 80.41L475.5 80.41Z" fill="#000"/>
<path d="M483.2 89.5L485.3 85.5L481.1 85.5Z" fill="#000"/>
<path d="M474.8 92.3L476.9 88.3L472.7 88.3Z" fill="#000"/>
<path d="M469.7 95.2L471.8 91.2L467.6 91.2Z" fill="#000"/>
<path d="M480.7 94.5L482.8 90.5L478.6 90.5Z" fill="#000"/>
<path d="M473.9 97.9L476 93.91L471.8 93.91Z" fill="#000"/>
<path d="M485.7 98.2L487.8 94.2L483.6 94.2Z" fill="#000"/>
<path d="M469.7 103L471.8 99L467.6 99Z" fill="#000"/>
<path d="M480.7 103.3L482.8 99.3L478.6 99.3Z" fill="#000"/>
<path d="M485.7 103L487.8 99L483.6 99Z" fill="#000"/>
<path d="M474.8 106.7L476.9 102.7L472.7 102.7Z" fill="#000"/>
<line x1="466.7" y1="93" x2="487.7" y2="93" stroke="#383838" stroke-width="0.9"/>
<line x1="477.2" y1="90.57" x2="477.2" y2="95.43" stroke="#383838" stroke-width="0.85"/>
<line x1="472.8" y1="90.57" x2="481.6" y2="90.57" stroke="#383838" stroke-width="0.85"/>
<line x1="472.8" y1="95.43" x2="481.6" y2="95.43" stroke="#383838" stroke-width="0.85"/>
<line x1="545.3" y1="28.1" x2="545.3" y2="120.9" stroke="#1e1e1e" stroke-width="1"/>
<line x1="544.8" y1="120.4" x2="684" y2="120.4" stroke="#1e1e1e" stroke-width="1"/>
<line x1="543.3" y1="120.4" x2="545.3" y2="120.4" stroke="#1e1e1e" stroke-width="0.8"/>
<text x="541.2" y="122.7" font-size="6.75" text-anchor="end" font-weight="bold" fill="#000">0</text>
<line x1="543.3" y1="97.45" x2="545.3" y2="97.45" stroke="#1e1e1e" stroke-width="0.8"/>
<text x="541.2" y="99.75" font-size="6.75" text-anchor="end" font-weight="bold" fill="#000">100</text>
<line x1="543.3" y1="74.5" x2="545.3" y2="74.5" stroke="#1e1e1e" stroke-width="0.8"/>
<text x="541.2" y="76.8" font-size="6.75" text-anchor="end" font-weight="bold" fill="#000">200</text>
<line x1="543.3" y1="51.55" x2="545.3" y2="51.55" stroke="#1e1e1e" stroke-width="0.8"/>
<text x="541.2" y="53.85" font-size="6.75" text-anchor="end" font-weight="bold" fill="#000">300</text>
<line x1="543.3" y1="28.6" x2="545.3" y2="28.6" stroke="#1e1e1e" stroke-width="0.8"/>
<text x="541.2" y="30.9" font-size="6.75" text-anchor="end" font-weight="bold" fill="#000">400</text>
<line x1="566.5" y1="120.4" x2="566.5" y2="122.4" stroke="#1e1e1e" stroke-width="0.8"/>
<text x="568.7" y="129.1" font-size="7" text-anchor="end" font-weight="bold" transform="rotate(-45 568.7 129.1)" fill="#000">Control</text>
<line x1="598.2" y1="120.4" x2="598.2" y2="122.4" stroke="#1e1e1e" stroke-width="0.8"/>
<text x="600.4" y="129.1" font-size="7" text-anchor="end" font-weight="bold" transform="rotate(-45 600.4 129.1)" fill="#000">BMFC</text>
<line x1="630" y1="120.4" x2="630" y2="122.4" stroke="#1e1e1e" stroke-width="0.8"/>
<text x="632.2" y="129.1" font-size="7" text-anchor="end" font-weight="bold" transform="rotate(-45 632.2 129.1)" fill="#000">KOC</text>
<line x1="662.1" y1="120.4" x2="662.1" y2="122.4" stroke="#1e1e1e" stroke-width="0.8"/>
<text x="664.3" y="129.1" font-size="7" text-anchor="end" font-weight="bold" transform="rotate(-45 664.3 129.1)" fill="#000">BMFC+KOC</text>
<text x="517.4" y="74.5" font-size="7.5" text-anchor="middle" font-weight="bold" transform="rotate(-90 517.4 74.5)" fill="#000">Triglycerides (mg/dL)</text>
<circle cx="558.1" cy="54.3" r="1.8" fill="#000"/>
<circle cx="563.9" cy="56.5" r="1.8" fill="#000"/>
<circle cx="569.4" cy="56.5" r="1.8" fill="#000"/>
<circle cx="575" cy="54.8" r="1.8" fill="#000"/>
<circle cx="569.4" cy="63.2" r="1.8" fill="#000"/>
<circle cx="563.9" cy="65.6" r="1.8" fill="#000"/>
<circle cx="558.1" cy="69.5" r="1.8" fill="#000"/>
<circle cx="563.9" cy="71.7" r="1.8" fill="#000"/>
<circle cx="569.4" cy="72.4" r="1.8" fill="#000"/>
<circle cx="575" cy="71.2" r="1.8" fill="#000"/>
<circle cx="561" cy="75.9" r="1.8" fill="#000"/>
<circle cx="572" cy="77.1" r="1.8" fill="#000"/>
<circle cx="566.4" cy="81" r="1.8" fill="#000"/>
<line x1="556" y1="67" x2="577" y2="67" stroke="#383838" stroke-width="0.9"/>
<line x1="566.5" y1="64.47" x2="566.5" y2="69.53" stroke="#383838" stroke-width="0.85"/>
<line x1="562.1" y1="64.47" x2="570.9" y2="64.47" stroke="#383838" stroke-width="0.85"/>
<line x1="562.1" y1="69.53" x2="570.9" y2="69.53" stroke="#383838" stroke-width="0.85"/>
<rect x="596.45" y="55.55" width="3.3" height="3.3" fill="#000"/>
<rect x="588.35" y="61.05" width="3.3" height="3.3" fill="#000"/>
<rect x="604.45" y="60.25" width="3.3" height="3.3" fill="#000"/>
<rect x="592.65" y="64.45" width="3.3" height="3.3" fill="#000"/>
<rect x="596.45" y="64.95" width="3.3" height="3.3" fill="#000"/>
<rect x="600.75" y="63.25" width="3.3" height="3.3" fill="#000"/>
<rect x="596.45" y="71.75" width="3.3" height="3.3" fill="#000"/>
<rect x="590.95" y="85.25" width="3.3" height="3.3" fill="#000"/>
<rect x="596.45" y="85.95" width="3.3" height="3.3" fill="#000"/>
<rect x="602.45" y="84.25" width="3.3" height="3.3" fill="#000"/>
<rect x="596.45" y="93.15" width="3.3" height="3.3" fill="#000"/>
<line x1="587.7" y1="73.4" x2="608.7" y2="73.4" stroke="#383838" stroke-width="0.9"/>
<line x1="598.2" y1="69.49" x2="598.2" y2="77.31" stroke="#383838" stroke-width="0.85"/>
<line x1="593.8" y1="69.49" x2="602.6" y2="69.49" stroke="#383838" stroke-width="0.85"/>
<line x1="593.8" y1="77.31" x2="602.6" y2="77.31" stroke="#383838" stroke-width="0.85"/>
<path d="M627.2 50.61L629.3 54.59L625.1 54.59Z" fill="#000"/>
<path d="M632.7 50.61L634.8 54.59L630.6 54.59Z" fill="#000"/>
<path d="M627.2 59.01L629.3 62.99L625.1 62.99Z" fill="#000"/>
<path d="M632.7 64.6L634.8 68.59L630.6 68.59Z" fill="#000"/>
<path d="M630.2 70.91L632.3 74.9L628.1 74.9Z" fill="#000"/>
<path d="M624.6 76.8L626.7 80.8L622.5 80.8Z" fill="#000"/>
<path d="M635.6 76.8L637.7 80.8L633.5 80.8Z" fill="#000"/>
<path d="M630.2 82.7L632.3 86.7L628.1 86.7Z" fill="#000"/>
<path d="M632.7 82.7L634.8 86.7L630.6 86.7Z" fill="#000"/>
<path d="M627.2 87.8L629.3 91.8L625.1 91.8Z" fill="#000"/>
<line x1="619.5" y1="72" x2="640.5" y2="72" stroke="#383838" stroke-width="0.9"/>
<line x1="630" y1="67.74" x2="630" y2="76.26" stroke="#383838" stroke-width="0.85"/>
<line x1="625.6" y1="67.74" x2="634.4" y2="67.74" stroke="#383838" stroke-width="0.85"/>
<line x1="625.6" y1="76.26" x2="634.4" y2="76.26" stroke="#383838" stroke-width="0.85"/>
<path d="M662 54.49L664.1 50.51L659.9 50.51Z" fill="#000"/>
<path d="M656.4 58.2L658.5 54.21L654.3 54.21Z" fill="#000"/>
<path d="M662.3 62.9L664.4 58.91L660.2 58.91Z" fill="#000"/>
<path d="M667.7 61.2L669.8 57.21L665.6 57.21Z" fill="#000"/>
<path d="M659.3 73.9L661.4 69.91L657.2 69.91Z" fill="#000"/>
<path d="M664.8 76.4L666.9 72.41L662.7 72.41Z" fill="#000"/>
<path d="M656.4 83.2L658.5 79.2L654.3 79.2Z" fill="#000"/>
<path d="M659.3 85.7L661.4 81.7L657.2 81.7Z" fill="#000"/>
<path d="M664.8 83.2L666.9 79.2L662.7 79.2Z" fill="#000"/>
<path d="M664.8 90.8L666.9 86.8L662.7 86.8Z" fill="#000"/>
<path d="M662 98L664.1 94L659.9 94Z" fill="#000"/>
<line x1="651.6" y1="72.9" x2="672.6" y2="72.9" stroke="#383838" stroke-width="0.9"/>
<line x1="662.1" y1="68.56" x2="662.1" y2="77.24" stroke="#383838" stroke-width="0.85"/>
<line x1="657.7" y1="68.56" x2="666.5" y2="68.56" stroke="#383838" stroke-width="0.85"/>
<line x1="657.7" y1="77.24" x2="666.5" y2="77.24" stroke="#383838" stroke-width="0.85"/>
<line x1="360.6" y1="196.5" x2="360.6" y2="289.1" stroke="#1e1e1e" stroke-width="1"/>
<line x1="360.1" y1="288.6" x2="499.3" y2="288.6" stroke="#1e1e1e" stroke-width="1"/>
<line x1="358.6" y1="288.6" x2="360.6" y2="288.6" stroke="#1e1e1e" stroke-width="0.8"/>
<text x="357.1" y="290.9" font-size="6.75" text-anchor="end" font-weight="bold" fill="#000">0</text>
<line x1="358.6" y1="265.7" x2="360.6" y2="265.7" stroke="#1e1e1e" stroke-width="0.8"/>
<text x="357.1" y="268" font-size="6.75" text-anchor="end" font-weight="bold" fill="#000">100</text>
<line x1="358.6" y1="242.8" x2="360.6" y2="242.8" stroke="#1e1e1e" stroke-width="0.8"/>
<text x="357.1" y="245.1" font-size="6.75" text-anchor="end" font-weight="bold" fill="#000">200</text>
<line x1="358.6" y1="219.9" x2="360.6" y2="219.9" stroke="#1e1e1e" stroke-width="0.8"/>
<text x="357.1" y="222.2" font-size="6.75" text-anchor="end" font-weight="bold" fill="#000">300</text>
<line x1="358.6" y1="197" x2="360.6" y2="197" stroke="#1e1e1e" stroke-width="0.8"/>
<text x="357.1" y="199.3" font-size="6.75" text-anchor="end" font-weight="bold" fill="#000">400</text>
<line x1="382.2" y1="288.6" x2="382.2" y2="290.6" stroke="#1e1e1e" stroke-width="0.8"/>
<text x="384.4" y="297.3" font-size="7" text-anchor="end" font-weight="bold" transform="rotate(-45 384.4 297.3)" fill="#000">Control</text>
<line x1="413.9" y1="288.6" x2="413.9" y2="290.6" stroke="#1e1e1e" stroke-width="0.8"/>
<text x="416.1" y="297.3" font-size="7" text-anchor="end" font-weight="bold" transform="rotate(-45 416.1 297.3)" fill="#000">BMFC</text>
<line x1="445.3" y1="288.6" x2="445.3" y2="290.6" stroke="#1e1e1e" stroke-width="0.8"/>
<text x="447.5" y="297.3" font-size="7" text-anchor="end" font-weight="bold" transform="rotate(-45 447.5 297.3)" fill="#000">KOC</text>
<line x1="477.2" y1="288.6" x2="477.2" y2="290.6" stroke="#1e1e1e" stroke-width="0.8"/>
<text x="479.4" y="297.3" font-size="7" text-anchor="end" font-weight="bold" transform="rotate(-45 479.4 297.3)" fill="#000">BMFC+KOC</text>
<text x="333" y="242.8" font-size="7.5" text-anchor="middle" font-weight="bold" transform="rotate(-90 333 242.8)" fill="#000">Phospholipids (mg/dL)</text>
<circle cx="376.3" cy="235.9" r="1.8" fill="#000"/>
<circle cx="381.9" cy="237.1" r="1.8" fill="#000"/>
<circle cx="387.4" cy="235.7" r="1.8" fill="#000"/>
<circle cx="373.8" cy="241.6" r="1.8" fill="#000"/>
<circle cx="379.2" cy="243" r="1.8" fill="#000"/>
<circle cx="384.6" cy="241.8" r="1.8" fill="#000"/>
<circle cx="390" cy="240.3" r="1.8" fill="#000"/>
<circle cx="379.2" cy="247.5" r="1.8" fill="#000"/>
<circle cx="384.6" cy="248.9" r="1.8" fill="#000"/>
<circle cx="373.8" cy="254.1" r="1.8" fill="#000"/>
<circle cx="379.2" cy="258.3" r="1.8" fill="#000"/>
<circle cx="384.6" cy="255.5" r="1.8" fill="#000"/>
<circle cx="390" cy="253.9" r="1.8" fill="#000"/>
<line x1="371.7" y1="245.5" x2="392.7" y2="245.5" stroke="#383838" stroke-width="0.9"/>
<line x1="382.2" y1="243.32" x2="382.2" y2="247.68" stroke="#383838" stroke-width="0.85"/>
<line x1="377.8" y1="243.32" x2="386.6" y2="243.32" stroke="#383838" stroke-width="0.85"/>
<line x1="377.8" y1="247.68" x2="386.6" y2="247.68" stroke="#383838" stroke-width="0.85"/>
<rect x="414.95" y="243.15" width="3.3" height="3.3" fill="#000"/>
<rect x="409.35" y="247.45" width="3.3" height="3.3" fill="#000"/>
<rect x="403.85" y="248.85" width="3.3" height="3.3" fill="#000"/>
<rect x="403.55" y="254.65" width="3.3" height="3.3" fill="#000"/>
<rect x="406.95" y="256.75" width="3.3" height="3.3" fill="#000"/>
<rect x="408.85" y="252.75" width="3.3" height="3.3" fill="#000"/>
<rect x="409.55" y="258.15" width="3.3" height="3.3" fill="#000"/>
<rect x="414.95" y="252.75" width="3.3" height="3.3" fill="#000"/>
<rect x="417.65" y="257.15" width="3.3" height="3.3" fill="#000"/>
<rect x="420.15" y="251.55" width="3.3" height="3.3" fill="#000"/>
<rect x="420.45" y="254.85" width="3.3" height="3.3" fill="#000"/>
<rect x="411.95" y="260.55" width="3.3" height="3.3" fill="#000"/>
<rect x="414.95" y="260.35" width="3.3" height="3.3" fill="#000"/>
<line x1="403.4" y1="255.3" x2="424.4" y2="255.3" stroke="#383838" stroke-width="0.9"/>
<line x1="413.9" y1="253.88" x2="413.9" y2="256.72" stroke="#383838" stroke-width="0.85"/>
<line x1="409.5" y1="253.88" x2="418.3" y2="253.88" stroke="#383838" stroke-width="0.85"/>
<line x1="409.5" y1="256.72" x2="418.3" y2="256.72" stroke="#383838" stroke-width="0.85"/>
<path d="M442.6 236L444.7 240L440.5 240Z" fill="#000"/>
<path d="M448.5 234.2L450.6 238.19L446.4 238.19Z" fill="#000"/>
<path d="M440.2 245.81L442.3 249.8L438.1 249.8Z" fill="#000"/>
<path d="M443.1 244.81L445.2 248.8L441 248.8Z" fill="#000"/>
<path d="M445.6 242.31L447.7 246.3L443.5 246.3Z" fill="#000"/>
<path d="M448 244.81L450.1 248.8L445.9 248.8Z" fill="#000"/>
<path d="M450.5 243.81L452.6 247.8L448.4 247.8Z" fill="#000"/>
<path d="M442.6 251.7L444.7 255.69L440.5 255.69Z" fill="#000"/>
<path d="M448 256.61L450.1 260.6L445.9 260.6Z" fill="#000"/>
<path d="M445.6 262.5L447.7 266.5L443.5 266.5Z" fill="#000"/>
<line x1="434.8" y1="248.1" x2="455.8" y2="248.1" stroke="#383838" stroke-width="0.9"/>
<line x1="445.3" y1="245.36" x2="445.3" y2="250.84" stroke="#383838" stroke-width="0.85"/>
<line x1="440.9" y1="245.36" x2="449.7" y2="245.36" stroke="#383838" stroke-width="0.85"/>
<line x1="440.9" y1="250.84" x2="449.7" y2="250.84" stroke="#383838" stroke-width="0.85"/>
<path d="M474.5 241.5L476.6 237.5L472.4 237.5Z" fill="#000"/>
<path d="M480.2 243.5L482.3 239.5L478.1 239.5Z" fill="#000"/>
<path d="M471.7 252.29L473.8 248.3L469.6 248.3Z" fill="#000"/>
<path d="M477.4 254.79L479.5 250.8L475.3 250.8Z" fill="#000"/>
<path d="M483.1 254.79L485.2 250.8L481 250.8Z" fill="#000"/>
<path d="M469.2 261.89L471.3 257.9L467.1 257.9Z" fill="#000"/>
<path d="M473.5 261.89L475.6 257.9L471.4 257.9Z" fill="#000"/>
<path d="M481.5 263.39L483.6 259.4L479.4 259.4Z" fill="#000"/>
<path d="M485.5 261.89L487.6 257.9L483.4 257.9Z" fill="#000"/>
<path d="M477.4 267.3L479.5 263.31L475.3 263.31Z" fill="#000"/>
<path d="M475.5 258.69L477.6 254.7L473.4 254.7Z" fill="#000"/>
<line x1="466.7" y1="255.5" x2="487.7" y2="255.5" stroke="#383838" stroke-width="0.9"/>
<line x1="477.2" y1="253.02" x2="477.2" y2="257.98" stroke="#383838" stroke-width="0.85"/>
<line x1="472.8" y1="253.02" x2="481.6" y2="253.02" stroke="#383838" stroke-width="0.85"/>
<line x1="472.8" y1="257.98" x2="481.6" y2="257.98" stroke="#383838" stroke-width="0.85"/>
<text x="414.2" y="218.5" font-size="7.6" text-anchor="middle" font-weight="bold" fill="#000">**</text>
<text x="477.5" y="218.5" font-size="7.6" text-anchor="middle" font-weight="bold" fill="#000">**</text>
<line x1="545.3" y1="196.5" x2="545.3" y2="289.1" stroke="#1e1e1e" stroke-width="1"/>
<line x1="544.8" y1="288.6" x2="684" y2="288.6" stroke="#1e1e1e" stroke-width="1"/>
<line x1="543.3" y1="288.6" x2="545.3" y2="288.6" stroke="#1e1e1e" stroke-width="0.8"/>
<text x="541.2" y="290.9" font-size="6.75" text-anchor="end" font-weight="bold" fill="#000">0</text>
<line x1="543.3" y1="265.7" x2="545.3" y2="265.7" stroke="#1e1e1e" stroke-width="0.8"/>
<text x="541.2" y="268" font-size="6.75" text-anchor="end" font-weight="bold" fill="#000">5</text>
<line x1="543.3" y1="242.8" x2="545.3" y2="242.8" stroke="#1e1e1e" stroke-width="0.8"/>
<text x="541.2" y="245.1" font-size="6.75" text-anchor="end" font-weight="bold" fill="#000">10</text>
<line x1="543.3" y1="219.9" x2="545.3" y2="219.9" stroke="#1e1e1e" stroke-width="0.8"/>
<text x="541.2" y="222.2" font-size="6.75" text-anchor="end" font-weight="bold" fill="#000">15</text>
<line x1="543.3" y1="197" x2="545.3" y2="197" stroke="#1e1e1e" stroke-width="0.8"/>
<text x="541.2" y="199.3" font-size="6.75" text-anchor="end" font-weight="bold" fill="#000">20</text>
<line x1="566.5" y1="288.6" x2="566.5" y2="290.6" stroke="#1e1e1e" stroke-width="0.8"/>
<text x="568.7" y="297.3" font-size="7" text-anchor="end" font-weight="bold" transform="rotate(-45 568.7 297.3)" fill="#000">Control</text>
<line x1="598.2" y1="288.6" x2="598.2" y2="290.6" stroke="#1e1e1e" stroke-width="0.8"/>
<text x="600.4" y="297.3" font-size="7" text-anchor="end" font-weight="bold" transform="rotate(-45 600.4 297.3)" fill="#000">BMFC</text>
<line x1="630" y1="288.6" x2="630" y2="290.6" stroke="#1e1e1e" stroke-width="0.8"/>
<text x="632.2" y="297.3" font-size="7" text-anchor="end" font-weight="bold" transform="rotate(-45 632.2 297.3)" fill="#000">KOC</text>
<line x1="662.1" y1="288.6" x2="662.1" y2="290.6" stroke="#1e1e1e" stroke-width="0.8"/>
<text x="664.3" y="297.3" font-size="7" text-anchor="end" font-weight="bold" transform="rotate(-45 664.3 297.3)" fill="#000">BMFC+KOC</text>
<text x="530.3" y="242.8" font-size="7.5" text-anchor="middle" font-weight="bold" transform="rotate(-90 530.3 242.8)" fill="#000">Free fatty acids (mg/dL)</text>
<circle cx="558.3" cy="230.9" r="1.8" fill="#000"/>
<circle cx="574.5" cy="231.4" r="1.8" fill="#000"/>
<circle cx="563.7" cy="234.2" r="1.8" fill="#000"/>
<circle cx="569" cy="235.4" r="1.8" fill="#000"/>
<circle cx="558.3" cy="239.7" r="1.8" fill="#000"/>
<circle cx="562.3" cy="242.8" r="1.8" fill="#000"/>
<circle cx="566.3" cy="242.8" r="1.8" fill="#000"/>
<circle cx="570.5" cy="242.8" r="1.8" fill="#000"/>
<circle cx="574.5" cy="241.9" r="1.8" fill="#000"/>
<line x1="556" y1="238.3" x2="577" y2="238.3" stroke="#383838" stroke-width="0.9"/>
<line x1="566.5" y1="236.62" x2="566.5" y2="239.98" stroke="#383838" stroke-width="0.85"/>
<line x1="562.1" y1="236.62" x2="570.9" y2="236.62" stroke="#383838" stroke-width="0.85"/>
<line x1="562.1" y1="239.98" x2="570.9" y2="239.98" stroke="#383838" stroke-width="0.85"/>
<rect x="591.05" y="233.45" width="3.3" height="3.3" fill="#000"/>
<rect x="596.85" y="238.05" width="3.3" height="3.3" fill="#000"/>
<rect x="602.05" y="237.75" width="3.3" height="3.3" fill="#000"/>
<rect x="588.25" y="241.75" width="3.3" height="3.3" fill="#000"/>
<rect x="593.75" y="243.55" width="3.3" height="3.3" fill="#000"/>
<rect x="599.25" y="246.45" width="3.3" height="3.3" fill="#000"/>
<rect x="604.75" y="242.35" width="3.3" height="3.3" fill="#000"/>
<rect x="593.95" y="255.05" width="3.3" height="3.3" fill="#000"/>
<rect x="599.25" y="254.65" width="3.3" height="3.3" fill="#000"/>
<line x1="587.7" y1="244.6" x2="608.7" y2="244.6" stroke="#383838" stroke-width="0.9"/>
<line x1="598.2" y1="242.14" x2="598.2" y2="247.06" stroke="#383838" stroke-width="0.85"/>
<line x1="593.8" y1="242.14" x2="602.6" y2="242.14" stroke="#383838" stroke-width="0.85"/>
<line x1="593.8" y1="247.06" x2="602.6" y2="247.06" stroke="#383838" stroke-width="0.85"/>
<path d="M627.2 230.2L629.3 234.19L625.1 234.19Z" fill="#000"/>
<path d="M635.6 233.6L637.7 237.59L633.5 237.59Z" fill="#000"/>
<path d="M624.6 240.41L626.7 244.4L622.5 244.4Z" fill="#000"/>
<path d="M632.7 239.7L634.8 243.69L630.6 243.69Z" fill="#000"/>
<path d="M624.6 248.5L626.7 252.5L622.5 252.5Z" fill="#000"/>
<path d="M632.7 246.81L634.8 250.8L630.6 250.8Z" fill="#000"/>
<path d="M635.6 249.81L637.7 253.8L633.5 253.8Z" fill="#000"/>
<path d="M630.2 253.5L632.3 257.5L628.1 257.5Z" fill="#000"/>
<path d="M629 243.5L631.1 247.5L626.9 247.5Z" fill="#000"/>
<line x1="619.5" y1="245.1" x2="640.5" y2="245.1" stroke="#383838" stroke-width="0.9"/>
<line x1="630" y1="242.54" x2="630" y2="247.66" stroke="#383838" stroke-width="0.85"/>
<line x1="625.6" y1="242.54" x2="634.4" y2="242.54" stroke="#383838" stroke-width="0.85"/>
<line x1="625.6" y1="247.66" x2="634.4" y2="247.66" stroke="#383838" stroke-width="0.85"/>
<path d="M662 224.5L664.1 220.5L659.9 220.5Z" fill="#000"/>
<path d="M656.4 232.09L658.5 228.1L654.3 228.1Z" fill="#000"/>
<path d="M667.4 235.39L669.5 231.4L665.3 231.4Z" fill="#000"/>
<path d="M653.9 238.79L656 234.8L651.8 234.8Z" fill="#000"/>
<path d="M670.4 239.29L672.5 235.3L668.3 235.3Z" fill="#000"/>
<path d="M659.3 242.19L661.4 238.2L657.2 238.2Z" fill="#000"/>
<path d="M664.8 243.89L666.9 239.9L662.7 239.9Z" fill="#000"/>
<path d="M662 265.5L664.1 261.5L659.9 261.5Z" fill="#000"/>
<path d="M662 236.69L664.1 232.7L659.9 232.7Z" fill="#000"/>
<line x1="651.6" y1="236.6" x2="672.6" y2="236.6" stroke="#383838" stroke-width="0.9"/>
<line x1="662.1" y1="232.86" x2="662.1" y2="240.34" stroke="#383838" stroke-width="0.85"/>
<line x1="657.7" y1="232.86" x2="666.5" y2="232.86" stroke="#383838" stroke-width="0.85"/>
<line x1="657.7" y1="240.34" x2="666.5" y2="240.34" stroke="#383838" stroke-width="0.85"/>
</svg>
</body></html>
